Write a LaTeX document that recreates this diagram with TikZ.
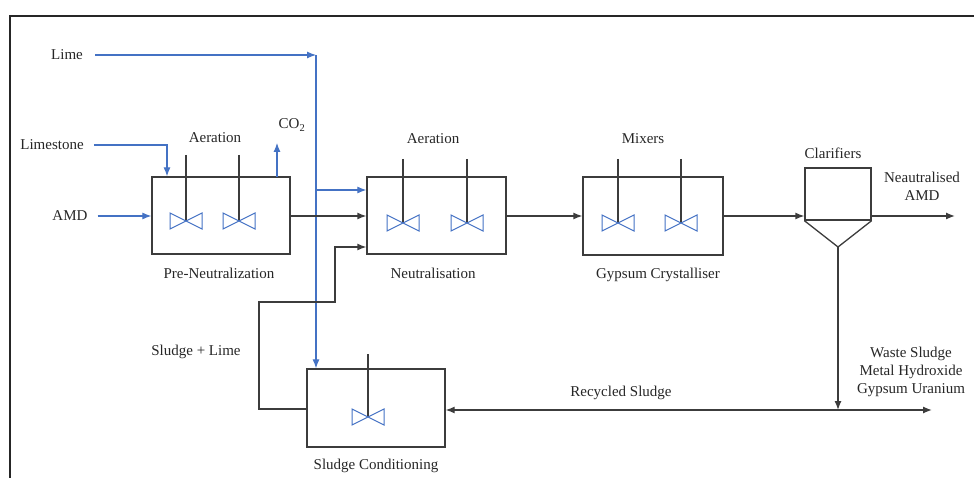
\documentclass[tikz,border=0pt]{standalone}
\usepackage{fontspec}
\setmainfont{Liberation Serif}
\usetikzlibrary{arrows.meta,calc}
\definecolor{flowblue}{RGB}{68,114,196}
\definecolor{linegray}{RGB}{60,60,60}
\begin{document}
\begin{tikzpicture}[x=1pt,y=-1pt,
  every node/.style={font=\fontsize{15}{18}\selectfont, text=black!85},
  lbl/.style={inner sep=0pt, align=center},
  tank/.style={draw=linegray, line width=1.3pt, rectangle, inner sep=0pt},
  kline/.style={draw=linegray, line width=1.3pt},
  karrow/.style={kline, -{Latex[length=9pt,width=7pt]}},
  bline/.style={draw=flowblue, line width=1.1pt},
  barrow/.style={bline, -{Latex[length=9pt,width=7pt]}},
  imp/.pic={\draw[flowblue, line width=1pt] (-16,-8) -- (-16,8) -- (16,-8) -- (16,8) -- cycle;}
]
\useasboundingbox (0,0) rectangle (974,478);
% frame
\draw[line width=1.6pt, black!85] (10,478) -- (10,16) -- (974,16);

% tanks
\node[tank, minimum width=138pt, minimum height=77pt] (pre) at (221,215.5) {};
\node[tank, minimum width=139pt, minimum height=77pt] (neu) at (436.5,215.5) {};
\node[tank, minimum width=140pt, minimum height=78pt] (gyp) at (653,216) {};
\node[tank, minimum width=138pt, minimum height=78pt] (slc) at (376,408) {};
\node[tank, minimum width=66pt, minimum height=52pt] (clar) at (838,194) {};
\coordinate (apex) at (838,247);
\draw[kline] (clar.south west) -- (apex) -- (clar.south east);

% labels
\node[lbl] (lime) at (67,55) {Lime};
\node[lbl] (limestone) at (52,145) {Limestone};
\node[lbl] (amd) at (70,216) {AMD};
\node[lbl] (aer1) at (215,138) {Aeration};
\node[lbl] (co2) at (292,125) {CO\textsubscript{2}};
\node[lbl] (prel) at (219,273) {Pre-Neutralization};
\node[lbl] (aer2) at (433,139) {Aeration};
\node[lbl] (neul) at (433,273) {Neutralisation};
\node[lbl] (mix) at (643,139) {Mixers};
\node[lbl] (gypl) at (658,275) {Gypsum Crystalliser};
\node[lbl] (clarl) at (833,153) {Clarifiers};
\node[lbl] (nout) at (922,186) {Neautralised\\AMD};
\node[lbl] (sll) at (196,352) {Sludge + Lime};
\node[lbl] (slcl) at (376,466) {Sludge Conditioning};
\node[lbl] (recl) at (621,393) {Recycled Sludge};
\node[lbl] (waste) at (911,372) {Waste Sludge\\Metal Hydroxide\\Gypsum Uranium};

% stirrers
\foreach \x/\t/\y in {186/155/221, 239/155/221, 403/159/223, 467/159/223, 618/159/223, 681/159/223, 368/354/417}{
  \draw[kline] (\x,\t) -- (\x,\y);
  \pic at (\x,\y) {imp};
}

% blue lime line
\coordinate (limeT) at (316,55);
\coordinate (limeB) at (316,190);
\draw[barrow] (lime.east) ++(12,0) -- (limeT);
\draw[barrow] (limeT) -- (limeT |- slc.north);
\draw[barrow] (limeB) -- (limeB -| neu.west);

% limestone
\coordinate (lsT) at (167,145);
\draw[barrow] (limestone.east) ++(10,0) -- (lsT) -- (lsT |- pre.north);

% AMD
\draw[barrow] (amd.east) ++(10,0) -- (amd.east -| pre.west);

% CO2
\coordinate (co2b) at (277,177);
\coordinate (co2t) at (277,143);
\draw[barrow] (co2b) -- (co2t);

% main flow
\draw[karrow] (pre.east |- amd.east) -- (amd.east -| neu.west);
\draw[karrow] (neu.east |- amd.east) -- (amd.east -| gyp.west);
\draw[karrow] (gyp.east |- amd.east) -- (amd.east -| clar.west);
\coordinate (nend) at (955,216);
\draw[karrow] (clar.east |- amd.east) -- (nend);

% underflow
\coordinate (J) at (838,410);
\coordinate (wend) at (932,410);
\draw[karrow] (apex) -- (J);
\draw[karrow] (J) -- (wend);
\draw[karrow] (J) -- (J -| slc.east);

% sludge + lime return
\coordinate (r1) at (259,409);
\coordinate (r2) at (259,302);
\coordinate (r3) at (335,302);
\coordinate (r4) at (335,247);
\draw[karrow] (r1 -| slc.west) -- (r1) -- (r2) -- (r3) -- (r4) -- (r4 -| neu.west);
\end{tikzpicture}
\end{document}
